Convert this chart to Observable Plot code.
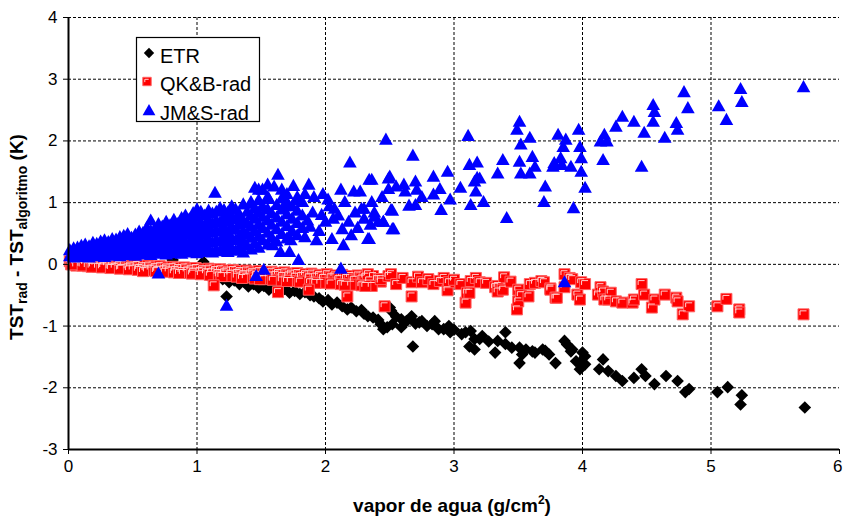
<!DOCTYPE html>
<html><head><meta charset="utf-8">
<script src="https://cdn.jsdelivr.net/npm/d3@7"></script>
<script src="https://cdn.jsdelivr.net/npm/@observablehq/plot@0.6"></script>
<style>body{margin:0;background:#fff}#chart{width:844px;height:517px}</style>
</head><body><div id="chart"></div>
<script>
const xTicks=[0,1,2,3,4,5,6];
const yTicks=[-3,-2,-1,0,1,2,3,4];
const seriesNames=["ETR","QK&B-rad","JM&S-rad"];
const xTitle="vapor de agua (g/cm";
const xTitleSup="2";

const etr=[[0.02,0.01],[0.06,-0.01],[0.10,0.0],[0.15,-0.02],[0.20,-0.01],[0.25,-0.03],[0.30,-0.02],[0.35,-0.04],[0.40,-0.03],[0.45,-0.05],[0.50,-0.04],[0.55,-0.06],[0.60,-0.05],[0.65,-0.07],[0.70,-0.06],[0.75,-0.09],[0.81,0.07],[0.85,-0.10],[0.90,-0.12],[0.95,-0.11],[1.00,-0.14],[1.05,0.04],[1.08,-0.17],[1.12,-0.2],[1.16,-0.22],
[1.20,-0.24],[1.23,-0.52],[1.25,-0.29],[1.29,-0.26],[1.33,-0.32],[1.37,-0.29],[1.40,-0.36],[1.44,-0.32],[1.48,-0.38],[1.52,-0.35],[1.56,-0.41],[1.60,-0.37],[1.64,-0.44],[1.68,-0.40],[1.72,-0.46],[1.76,-0.43],[1.80,-0.48],[1.84,-0.45],[1.88,-0.50],[1.91,-0.52],[1.95,-0.55],[1.98,-0.60],[2.02,-0.58],[2.05,-0.65],[2.09,-0.62],[2.13,-0.68],[2.17,-0.73],[2.20,-0.70],[2.24,-0.76],[2.28,-0.74],[2.30,-0.80],[2.33,-0.84],[2.37,-0.86],[2.41,-0.90],[2.43,-0.97],[2.45,-1.05],
[2.48,-1.02],[2.50,-0.70],[2.51,-0.75],[2.52,-0.97],[2.55,-0.85],[2.59,-0.89],[2.59,-1.02],[2.63,-0.92],[2.67,-0.84],[2.68,-1.33],[2.70,-0.96],[2.73,-0.94],[2.75,-0.92],[2.79,-1.0],[2.83,-0.97],[2.85,-0.92],[2.88,-1.05],[2.92,-1.05],[2.96,-1.00],[2.97,-1.10],[3.00,-1.06],[3.06,-1.13],[3.09,-1.10],[3.12,-1.33],[3.13,-1.08],[3.16,-1.21],[3.16,-1.38],[3.20,-1.21],[3.22,-1.16],[3.27,-1.25],[3.32,-1.43],[3.34,-1.24],[3.40,-1.10],[3.40,-1.29],[3.45,-1.35],[3.51,-1.35],[3.51,-1.60],[3.53,-1.46],[3.56,-1.38],[3.61,-1.41],[3.63,-1.43],[3.69,-1.38],[3.71,-1.40],[3.74,-1.46],[3.79,-1.60],[3.86,-1.24],[3.88,-1.30],[3.91,-1.41],[3.92,-1.38],[3.95,-1.57],[3.98,-1.70],[3.98,-1.59],[4.00,-1.43],[4.02,-1.49],[4.02,-1.62],[4.13,-1.70],[4.16,-1.54],[4.20,-1.73],[4.26,-1.81],[4.31,-1.89],[4.40,-1.84],[4.46,-1.70],[4.49,-1.81],[4.56,-1.94],[4.65,-1.81],[4.74,-1.89],[4.80,-2.07],[4.83,-2.02],[5.05,-2.07],[5.13,-1.99],[5.24,-2.12],[5.23,-2.27],[5.73,-2.32]];

const qkb=[[0.01,0.05],[0.02,0.00],[0.05,0.03],[0.06,-0.02],[0.09,0.04],[0.10,-0.01],[0.13,0.02],[0.15,-0.03],[0.17,0.03],[0.19,-0.02],[0.21,0.01],[0.23,-0.04],[0.25,0.02],[0.27,-0.03],[0.30,0.00],[0.32,-0.05],[0.34,0.01],[0.36,-0.04],[0.39,-0.01],[0.41,-0.06],[0.43,0.00],[0.46,-0.05],[0.48,-0.02],[0.50,-0.07],[0.53,-0.01],[0.55,-0.06],[0.57,-0.03],[0.60,-0.08],[0.62,-0.02],[0.64,-0.07],[0.67,-0.04],[0.69,-0.09],[0.71,-0.03],[0.74,-0.08],[0.76,-0.05],[0.78,-0.10],[0.81,-0.04],[0.83,-0.09],[0.85,-0.06],[0.88,-0.11],[0.90,-0.05],[0.92,-0.10],[0.95,-0.07],[0.97,-0.12],[0.99,-0.06],[1.02,-0.11],[1.04,-0.08],[1.07,-0.13],[1.09,-0.07],[1.11,-0.12],[1.14,-0.09],[1.16,-0.14],[1.18,-0.08],[1.21,-0.13],[1.23,-0.10],[1.26,-0.15],[1.28,-0.09],[1.31,-0.14],[1.33,-0.11],[1.36,-0.16],[1.38,-0.10],[1.41,-0.15],[1.43,-0.12],[1.46,-0.17],[1.48,-0.11],[1.51,-0.16],[1.53,-0.13],[1.56,-0.18],[1.58,-0.12],[1.61,-0.17],[1.63,-0.14],[1.66,-0.19],[1.68,-0.13],[1.71,-0.18],[1.73,-0.15],[1.76,-0.20],[1.78,-0.14],[1.81,-0.19],[1.84,-0.16],[1.87,-0.21],[1.89,-0.15],[1.92,-0.20],[1.95,-0.17],[1.98,-0.22],[2.01,-0.16],[2.04,-0.21],[2.07,-0.18],[2.10,-0.24],[2.13,-0.17],[2.16,-0.22],[2.19,-0.19],[2.22,-0.25],[2.25,-0.18],[2.28,-0.23],[2.31,-0.20],[2.34,-0.26],[2.37,-0.19],[2.40,-0.24],[2.43,-0.28],
[0.03,0.0],[0.11,-0.02],[0.18,-0.04],[0.26,-0.05],[0.33,-0.06],[0.40,-0.07],[0.47,-0.08],[0.54,-0.09],[0.61,-0.10],[0.68,-0.11],[0.75,-0.12],[0.82,-0.13],[0.89,-0.14],[0.96,-0.15],[1.03,-0.16],[1.10,-0.17],[1.17,-0.18],[1.24,-0.19],[1.31,-0.20],[1.38,-0.21],[1.45,-0.23],[1.52,-0.24],[1.59,-0.25],[1.66,-0.26],[1.73,-0.27],[1.80,-0.28],[1.88,-0.29],[1.96,-0.30],[2.04,-0.31],[2.12,-0.32],[2.20,-0.33],[2.28,-0.34],[2.36,-0.35],
[0.58,-0.11],[0.86,-0.14],[1.19,-0.19],[1.35,-0.22],[1.49,-0.24],[1.70,-0.27],[1.92,-0.30],[2.15,-0.33],[2.31,-0.35],
[1.13,-0.34],[1.63,-0.45],[1.87,-0.41],[2.17,-0.52],[2.46,-0.68],[2.33,-0.16],[2.43,-0.24],[2.49,-0.19],[2.51,-0.16],[2.55,-0.32],[2.60,-0.22],[2.67,-0.29],[2.67,-0.52],[2.72,-0.2],[2.75,-0.29],[2.80,-0.24],[2.84,-0.32],[2.89,-0.27],[2.92,-0.22],[2.95,-0.42],[2.96,-0.29],[3.00,-0.25],[3.05,-0.32],[3.09,-0.62],[3.10,-0.46],[3.12,-0.46],[3.13,-0.27],[3.17,-0.22],[3.20,-0.29],[3.25,-0.3],[3.32,-0.37],[3.34,-0.35],[3.34,-0.44],[3.38,-0.41],[3.39,-0.21],[3.44,-0.28],[3.49,-0.73],[3.50,-0.41],[3.50,-0.60],[3.52,-0.5],[3.58,-0.52],[3.59,-0.32],[3.63,-0.3],[3.68,-0.27],[3.70,-0.29],[3.75,-0.39],[3.75,-0.41],[3.79,-0.54],[3.80,-0.54],[3.86,-0.16],[3.86,-0.37],[3.90,-0.22],[3.92,-0.24],[3.96,-0.49],[3.98,-0.57],[3.99,-0.29],[4.02,-0.32],[4.12,-0.49],[4.14,-0.37],[4.16,-0.44],[4.17,-0.57],[4.20,-0.57],[4.22,-0.46],[4.26,-0.60],[4.31,-0.62],[4.39,-0.62],[4.40,-0.57],[4.46,-0.32],[4.48,-0.49],[4.54,-0.70],[4.56,-0.57],[4.64,-0.49],[4.73,-0.54],[4.74,-0.60],[4.78,-0.81],[4.83,-0.68],[5.05,-0.68],[5.12,-0.56],[5.22,-0.73],[5.22,-0.78],[5.72,-0.81]];

const jms=[[0.01,0.14],[0.01,0.24],[0.04,0.12],[0.04,0.22],[0.04,0.27],[0.07,0.16],[0.07,0.28],[0.10,0.13],[0.10,0.22],[0.10,0.31],[0.13,0.15],[0.13,0.25],[0.13,0.33],[0.16,0.12],[0.16,0.21],[0.16,0.30],[0.19,0.17],[0.19,0.27],[0.19,0.36],[0.22,0.14],[0.22,0.24],[0.22,0.34],[0.25,0.18],[0.25,0.29],[0.25,0.38],[0.28,0.13],[0.28,0.22],[0.28,0.33],[0.28,0.40],[0.31,0.17],[0.31,0.27],[0.31,0.37],[0.34,0.15],[0.34,0.25],[0.34,0.35],[0.34,0.42],[0.37,0.19],[0.37,0.30],[0.37,0.41],[0.40,0.14],[0.40,0.24],[0.40,0.36],[0.40,0.45],[0.43,0.18],[0.43,0.29],[0.43,0.40],[0.43,0.47],[0.46,0.16],[0.46,0.27],[0.46,0.38],[0.46,0.50],[0.49,0.20],[0.49,0.33],[0.49,0.44],[0.52,0.15],[0.52,0.26],[0.52,0.37],[0.52,0.49],[0.55,0.19],[0.55,0.31],[0.55,0.43],[0.55,0.54],[0.58,0.17],[0.58,0.28],[0.58,0.40],[0.58,0.52],[0.61,0.21],[0.61,0.34],[0.61,0.47],[0.61,0.60],[0.64,0.16],[0.64,0.29],[0.64,0.42],[0.64,0.55],[0.64,0.72],[0.67,0.20],[0.67,0.33],[0.67,0.46],[0.67,0.58],[0.70,0.18],[0.70,0.30],[0.70,0.44],[0.70,0.57],[0.70,0.66],[0.73,0.22],[0.73,0.36],[0.73,0.50],[0.73,0.62],[0.76,0.17],[0.76,0.31],[0.76,0.45],[0.76,0.59],[0.76,0.70],[0.79,0.21],[0.79,0.35],[0.79,0.49],[0.79,0.64],[0.82,0.19],[0.82,0.33],[0.82,0.47],[0.82,0.61],[0.82,0.73],[0.85,0.23],[0.85,0.38],[0.85,0.52],[0.85,0.66],[0.88,0.18],[0.88,0.32],[0.88,0.46],[0.88,0.60],[0.88,0.76],[0.91,0.22],[0.91,0.37],[0.91,0.51],[0.91,0.65],[0.91,0.80],[0.94,0.20],[0.94,0.34],[0.94,0.49],[0.94,0.63],[0.94,0.74],[0.97,0.24],[0.97,0.39],[0.97,0.55],[0.97,0.70],[0.97,0.84],[1.00,0.19],[1.00,0.33],[1.00,0.48],[1.00,0.62],[1.00,0.78],[1.00,0.90],[1.03,0.23],[1.03,0.37],[1.03,0.53],[1.03,0.68],[1.03,0.86],[1.06,0.21],[1.06,0.35],[1.06,0.50],[1.06,0.64],[1.06,0.80],[1.09,0.25],[1.09,0.41],[1.09,0.57],[1.09,0.72],[1.09,0.88],[1.12,0.20],[1.12,0.36],[1.12,0.52],[1.12,0.67],[1.12,0.83],[1.15,0.24],[1.15,0.40],[1.15,0.56],[1.15,0.71],[1.15,0.86],[1.18,0.22],[1.18,0.38],[1.18,0.54],[1.18,0.69],[1.18,0.92],[1.21,0.27],[1.21,0.44],[1.21,0.60],[1.21,0.76],[1.21,0.89],[1.24,0.21],[1.24,0.37],[1.24,0.53],[1.24,0.70],[1.24,0.85],[1.27,0.26],[1.27,0.43],[1.27,0.62],[1.27,0.79],[1.27,0.95],[1.30,0.23],[1.30,0.40],[1.30,0.57],[1.30,0.74],[1.30,0.90],[1.33,0.29],[1.33,0.47],[1.33,0.65],[1.33,0.82],[1.36,0.20],[1.36,0.38],[1.36,0.55],[1.36,0.72],[1.36,0.98],[1.39,0.31],[1.39,0.50],[1.39,0.68],[1.39,0.86],[1.42,0.25],[1.42,0.44],[1.42,0.62],[1.42,0.80],[1.42,1.00],[1.45,0.35],[1.45,0.55],[1.45,0.75],[1.45,0.92],[1.48,0.28],[1.48,0.47],[1.48,0.66],[1.48,0.85],[1.48,1.05],[1.51,0.40],[1.51,0.60],[1.51,0.78],[1.51,0.95],[1.55,0.33],[1.55,0.52],[1.55,0.72],[1.55,0.90],[1.55,1.10],[1.58,0.45],[1.58,0.65],[1.58,0.84],[1.62,0.38],[1.62,0.58],[1.62,0.77],[1.62,0.97],[1.66,0.50],[1.66,0.70],[1.66,0.90],[1.66,1.08],[1.70,0.43],[1.70,0.63],[1.70,0.82],[1.70,1.02],[1.74,0.55],[1.74,0.75],[1.74,0.95],[1.78,0.48],[1.78,0.68],[1.78,0.88],[1.78,1.10],[1.82,0.60],[1.82,0.80],
[1.14,1.17],[0.70,-0.14],[1.48,1.22],[1.42,1.02],[1.23,-0.66],[1.46,-0.18],[1.52,-0.08],[2.12,-0.06],[3.86,-0.28],
[1.63,1.46],[1.51,1.22],[1.60,1.27],[1.87,1.30],[1.84,1.15],[1.91,1.10],[1.82,1.02],[2.12,1.22],[2.02,1.06],[2.22,1.19],[2.27,1.19],[2.34,1.38],[2.49,1.40],[2.55,1.27],[1.42,0.99],[1.56,1.07],[1.97,0.81],[2.07,0.91],[2.15,1.02],[2.06,0.75],[2.13,0.58],[2.14,0.32],[2.05,0.42],[1.93,0.40],[1.84,0.45],[1.73,0.40],[1.79,0.08],[1.65,0.21],[1.72,0.21],[1.59,0.32],[2.34,0.42],[2.41,0.70],[2.45,0.70],[2.53,0.58],[2.38,0.85],[2.52,0.88],[2.28,0.91],[2.19,1.66],[2.47,2.03],
[1.88,0.62],[1.95,0.55],[2.00,0.70],[1.90,0.85],[1.86,0.72],[2.03,0.95],[1.98,1.15],[2.10,0.80],[2.18,0.70],[2.23,0.85],[2.25,0.60],[2.30,0.75],[2.20,0.48],[1.45,1.25],[1.55,1.30],[1.66,1.22],[1.70,1.15],[1.75,1.28],[1.79,1.05],[1.68,0.95],
[2.68,1.77],[3.11,2.09],[3.51,2.32],[3.49,2.19],[3.59,2.06],[3.52,1.95],[3.38,1.70],[3.51,1.67],[3.61,1.75],[3.63,1.59],[3.77,1.59],[3.71,1.27],[3.70,1.02],[3.41,0.76],[3.34,1.48],[3.52,1.48],[3.59,1.48],[3.12,1.62],[3.18,1.66],[3.18,1.41],[3.16,1.35],[3.20,1.40],[3.17,1.19],[3.13,0.97],[3.23,1.02],[3.05,1.25],[2.97,1.06],[2.95,1.51],[2.84,1.43],[2.89,1.23],[2.84,1.14],[2.90,0.89],[2.70,1.35],[2.71,1.22],[2.70,0.97],[2.65,0.96],[2.75,1.10],[2.61,1.30],[2.62,1.19],[2.50,1.43],[2.49,1.23],[2.51,0.89],[2.44,1.10],[2.45,0.70],[2.52,0.58],[2.36,1.38],[2.35,0.65],[2.33,0.42],[2.38,0.78],[2.30,0.91],[2.36,1.02],
[5.72,2.88],[5.23,2.85],[5.24,2.64],[5.06,2.57],[5.12,2.35],[4.79,2.80],[4.82,2.54],[4.55,2.59],[4.56,2.48],[4.55,2.32],[4.48,2.14],[4.64,2.06],[4.73,2.30],[4.74,2.19],[4.46,1.59],[4.31,2.40],[4.26,2.24],[4.40,2.32],[4.17,2.11],[4.19,2.00],[4.14,2.00],[4.16,1.70],[3.97,2.19],[3.98,1.91],[3.99,1.73],[3.99,1.51],[4.02,1.25],[3.93,0.92],[3.81,2.11],[3.87,2.03],[3.85,1.91],[3.83,1.73],[3.78,1.65],[3.84,1.62],[3.91,1.59]];

const R=s=>Math.sqrt(s/Math.PI);
const diamond={draw(c,s){const r=R(s);c.moveTo(0,-r);c.lineTo(r,0);c.lineTo(0,r);c.lineTo(-r,0);c.closePath();}};
const square={draw(c,s){const r=R(s);c.moveTo(-r,-r);c.lineTo(r,-r);c.lineTo(r,r);c.lineTo(-r,r);c.closePath();}};
const shine={draw(c,s){const r=R(s);c.moveTo(-r+2,r*0.15);c.lineTo(-r+2,-r+2);c.lineTo(r-2.5,-r+2);}};
const tri={draw(c,s){const r=R(s);c.moveTo(0,-r*1.05);c.lineTo(r*1.1,r*0.9);c.lineTo(-r*1.1,r*0.9);c.closePath();}};

const X=d=>d[0], Y=d=>d[1];
const plot=Plot.plot({
  width:844,height:517,marginLeft:68,marginRight:5,marginTop:17,marginBottom:68,
  style:{fontFamily:"'Liberation Sans', Arial, sans-serif",fontSize:"15px",color:"#000",background:"#fff"},
  x:{domain:[xTicks[0],xTicks[xTicks.length-1]],label:null},
  y:{domain:[yTicks[0],yTicks[yTicks.length-1]],label:null},
  marks:[
    Plot.gridX(xTicks.slice(1,-1),{stroke:"#000",strokeOpacity:1,strokeDasharray:"3,2",strokeWidth:1}),
    Plot.gridY(yTicks.slice(1),{stroke:"#000",strokeOpacity:1,strokeDasharray:"3,2",strokeWidth:1}),
    Plot.dot(etr,{x:X,y:Y,symbol:diamond,r:6.3,fill:"#000",stroke:"none"}),
    Plot.dot(qkb,{x:X,y:Y,symbol:square,r:5.5,fill:"#ff0000",stroke:"#ff6060",strokeWidth:1}),
    Plot.dot(qkb,{x:X,y:Y,symbol:shine,r:5.5,fill:"none",stroke:"#ffd0d0",strokeWidth:1}),
    Plot.dot(jms,{x:X,y:Y,symbol:tri,r:6.2,fill:"#0000ff",stroke:"none"}),
    Plot.axisX({ticks:xTicks,tickSize:5,tickPadding:5,label:null,tickFormat:d=>String(d)}),
    Plot.axisY({ticks:yTicks,tickSize:5,tickPadding:6,label:null,tickFormat:d=>String(d)}),
    Plot.ruleX([xTicks[0]],{stroke:"#000",strokeWidth:2}),
    Plot.ruleY([yTicks[0]],{stroke:"#000",strokeWidth:2})
  ]
});
document.getElementById("chart").appendChild(plot);

const svg=d3.select(plot);
svg.selectAll("text").style("font-size","17px").style("font-family","'Liberation Sans Narrow', 'Liberation Sans', Arial, sans-serif");
const tickTexts=svg.selectAll("text").nodes();
const sixLabel=tickTexts.filter(t=>t.textContent===String(xTicks[xTicks.length-1]));
sixLabel.forEach(t=>d3.select(t).attr("text-anchor","end").attr("dx",3));
// x title
const xt=svg.append("text").attr("x",452).attr("y",512).attr("text-anchor","middle")
  .attr("font-weight","bold").attr("font-size",19).attr("fill","#000");
xt.append("tspan").text(xTitle);
xt.append("tspan").attr("dy",-8).attr("font-size",12).text(xTitleSup);
xt.append("tspan").attr("dy",8).text(")");
// y title
const yt=svg.append("text").attr("transform","translate(23,237) rotate(-90)").attr("text-anchor","middle")
  .attr("font-weight","bold").attr("font-size",19).attr("fill","#000");
yt.append("tspan").text("TST");
yt.append("tspan").attr("dy",4).attr("font-size",14).text("rad");
yt.append("tspan").attr("dy",-4).text(" - TST");
yt.append("tspan").attr("dy",4).attr("font-size",14).text("algoritmo");
yt.append("tspan").attr("dy",-4).text(" (K)");

// legend
const lg=svg.append("g").attr("text-anchor","start");
lg.append("rect").attr("x",136.5).attr("y",37.5).attr("width",123).attr("height",84).attr("fill","#fff").attr("stroke","#000").attr("stroke-width",1.2);
const legendSyms=[[diamond,5.2,"#000","none"],[square,4.2,"#ff0000","#ff6060"],[tri,5.8,"#0000ff","none"]];
seriesNames.forEach((name,i)=>{
  const cy=53+i*28.5;
  const [sym,r,f,s]=legendSyms[i];
  const p=d3.path(); sym.draw(p,Math.PI*r*r);
  lg.append("path").attr("d",p.toString()).attr("transform",`translate(${i===1?147:149},${cy})`).attr("fill",f).attr("stroke",s);
  if(i===1){const q=d3.path(); shine.draw(q,Math.PI*r*r); lg.append("path").attr("d",q.toString()).attr("transform",`translate(147,${cy})`).attr("fill","none").attr("stroke","#ffd0d0");}
  lg.append("text").attr("x",160).attr("y",cy+9.5).attr("text-anchor","start").attr("font-size",20).attr("fill","#000").text(name);
});
</script></body></html>
